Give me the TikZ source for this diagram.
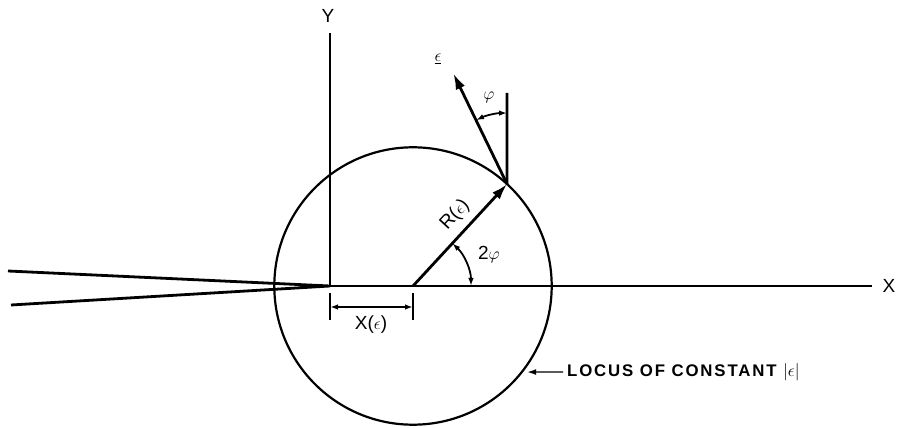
\documentclass[tikz,border=0pt]{standalone}
\usepackage{fontspec}
\setmainfont{Liberation Sans}
\usetikzlibrary{arrows.meta,calc}
\begin{document}
\begin{tikzpicture}[x=1pt,y=1pt,
  heavy/.style={line width=2.8pt},
  medium/.style={line width=2.2pt},
  thin dim/.style={line width=1.8pt},
  bighead/.style={-{Latex[length=16pt,width=10pt]}},
  smallboth/.style={{Latex[length=8pt,width=5.5pt]}-{Latex[length=8pt,width=5.5pt]}},
  lbl/.style={font=\fontsize{19}{21}\selectfont, inner sep=0pt},
]
\useasboundingbox (0,0) rectangle (899,428);
% key points
\coordinate (O) at (330,142);
\coordinate (C) at (413,142);
\coordinate (P) at ($(C)+(47.3:138.7)$);
\coordinate (Ytop) at (330,395);
\coordinate (Xend) at (872,142);
\coordinate (crU) at (8,157);
\coordinate (crL) at (11,123);
\coordinate (Vtop) at (507,335);
\coordinate (Etip) at ($(P)+(115.9:123)$);
\coordinate (PhiA) at ($(P)+(90:71)$);
\coordinate (TwoA) at ($(C)+(0:58)$);
\coordinate (T1a) at (330,135);
\coordinate (T1b) at (330,108);
\coordinate (T2a) at (413,135);
\coordinate (T2b) at (413,108);
\coordinate (D1) at (330,121);
\coordinate (D2) at (413,121);
\coordinate (L) at ($(C)+(-37.0:143)$);
% crack and axes
\draw[heavy] (crU) -- (O) -- (crL);
\draw[heavy] (O) -- (Ytop);
\draw[heavy] (O) -- (Xend);
% circle
\draw[medium] (C) circle[radius=138.7];
% vectors
\draw[heavy, bighead] (C) -- (P);
\draw[heavy, bighead] (P) -- (Etip);
\draw[heavy] (P) -- (Vtop);
% angle arcs
\draw[thin dim, smallboth] (PhiA) arc[start angle=90, end angle=115.9, radius=71];
\draw[thin dim, smallboth] (TwoA) arc[start angle=0, end angle=47.3, radius=58];
% dimension X(eps)
\draw[thin dim] (T1a) -- (T1b);
\draw[thin dim] (T2a) -- (T2b);
\draw[thin dim, smallboth] (D1) -- (D2);
% labels
\node[lbl] (ylab) at (328,412) {Y};
\node[lbl] (xlab) at (889,142) {X};
\node[lbl] (elab) at (438,369) {$\underline{\epsilon}$};
\node[lbl] (phil) at (489,331) {$\varphi$};
\node[lbl, rotate=47.3] (rlab) at (455,213) {R($\epsilon$)};
\node[lbl] (tphi) at (489,173) {2$\varphi$};
\node[lbl] (xel) at (371,103) {X($\epsilon$)};
\node[inner sep=0pt, anchor=west, font=\fontsize{16.8}{18}\selectfont\bfseries\addfontfeature{LetterSpace=11}] (locus) at (567,56) {LOCUS OF CONSTANT\ $|\epsilon|$};
\draw[line width=1.4pt, -{Latex[length=9pt,width=6pt]}, shorten <=4pt] (locus.west) -- (L);
\end{tikzpicture}
\end{document}
